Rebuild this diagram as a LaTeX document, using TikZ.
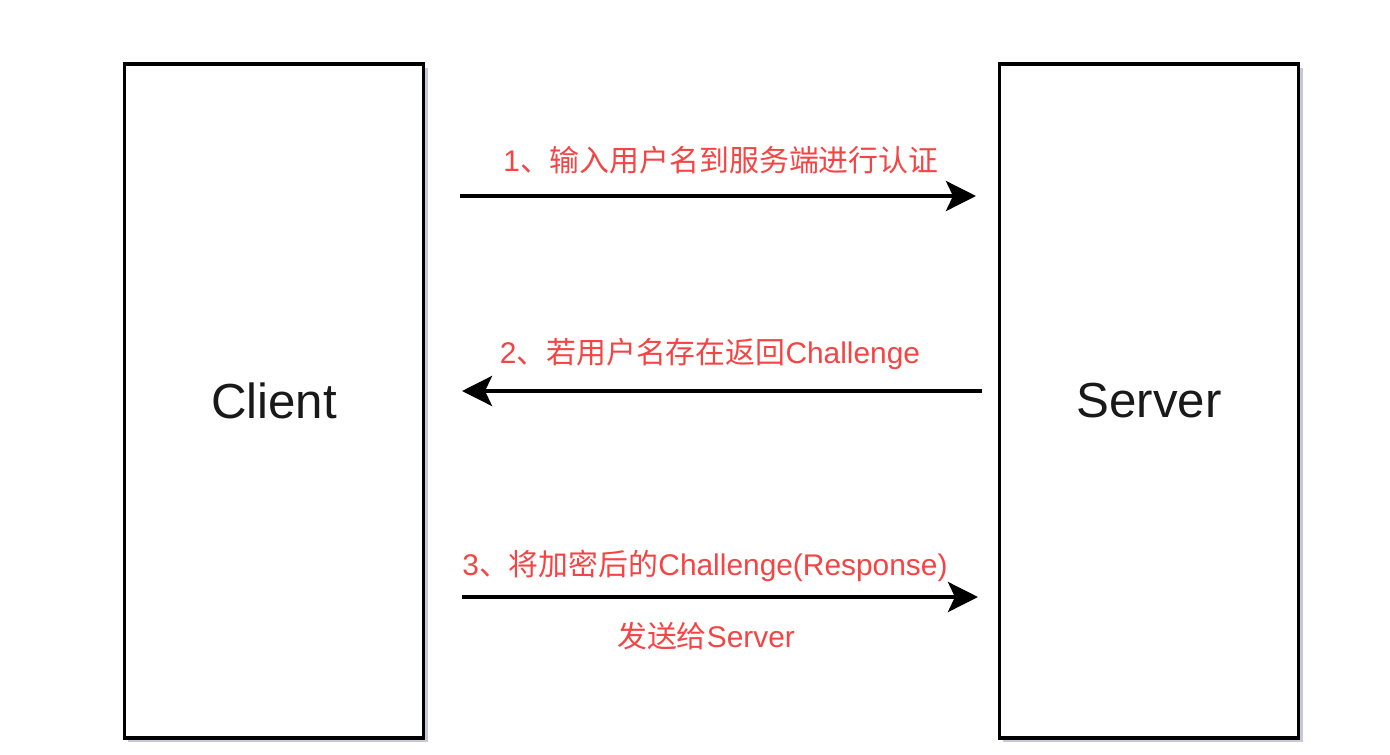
\documentclass[tikz,border=0pt]{standalone}
\usepackage{fontspec}
\setmainfont{Liberation Sans}
\newfontfamily\cjk{Noto Sans CJK SC}
\usetikzlibrary{arrows.meta,shadows}
\definecolor{lblred}{HTML}{F54444}
\definecolor{shadowc}{HTML}{8F93B5}
\begin{document}
\begin{tikzpicture}[x=0.01cm,y=-0.01cm,
  box/.style={draw=black, line width=1.05pt, fill=white, minimum width=2.99cm, minimum height=6.73cm,
    inner sep=0pt, font=\fontsize{14pt}{16pt}\selectfont, text=black!90,
    drop shadow={shadow xshift=0.04cm, shadow yshift=-0.04cm, opacity=0.5, fill=shadowc}},
  msg/.style={line width=1.15pt, -{Stealth[length=0.3cm, width=0.3cm, inset=0.07cm]}},
  lbl/.style={text=lblred, inner sep=0pt, font=\fontsize{8.5pt}{10pt}\selectfont}]
\useasboundingbox (0,0) rectangle (1390,754);
\node[box] (client) at (274,401) {Client};
\node[box] (server) at (1149,401) {Server};
\coordinate (a1s) at (460,196);
\coordinate (a1e) at (976,196);
\coordinate (a2s) at (982,391);
\coordinate (a2e) at (462,391);
\coordinate (a3s) at (462,597);
\coordinate (a3e) at (978,597);
\draw[msg] (a1s) -- (a1e);
\draw[msg] (a2s) -- (a2e);
\draw[msg] (a3s) -- (a3e);
\node[lbl] (l1) at (721,160) {1{\cjk 、输入用户名到服务端进行认证}};
\node[lbl] (l2) at (710,354) {2{\cjk 、若用户名存在返回}Challenge};
\node[lbl] (l3) at (705,566) {3{\cjk 、将加密后的}Challenge(Response)};
\node[lbl] (l4) at (706,636) {{\cjk 发送给}Server};
\end{tikzpicture}
\end{document}
